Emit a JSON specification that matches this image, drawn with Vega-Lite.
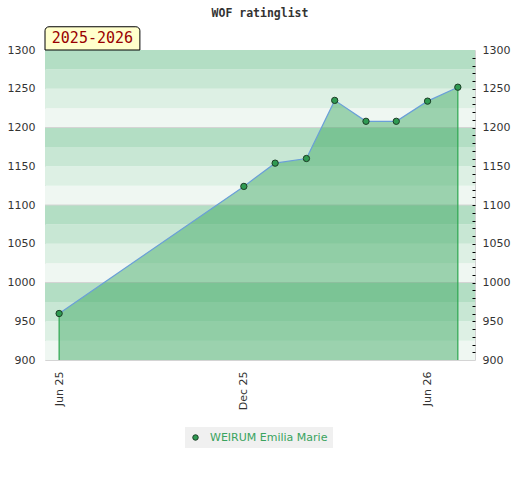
{
  "$schema": "https://vega.github.io/schema/vega-lite/v6.json",
  "width": 430,
  "height": 310,
  "autosize": {"type": "none"},
  "padding": {"left": 45, "top": 50, "right": 45, "bottom": 120},
  "background": "white",
  "title": {"text": "WOF ratinglist", "font": "DejaVu Sans Mono", "fontSize": 11.5, "fontWeight": "bold", "color": "#333333", "anchor": "middle", "offset": 7},
  "config": {
    "view": {"stroke": "#d4d4d4", "strokeWidth": 1},
    "axis": {"labelFont": "DejaVu Sans", "labelFontSize": 11, "labelColor": "#333333", "domain": false, "ticks": false, "grid": false, "title": null}
  },
  "datasets": {
    "bands": [
      {"lo": 900, "hi": 925, "shade": "d"}, {"lo": 925, "hi": 950, "shade": "c"}, {"lo": 950, "hi": 975, "shade": "b"}, {"lo": 975, "hi": 1000, "shade": "a"},
      {"lo": 1000, "hi": 1025, "shade": "d"}, {"lo": 1025, "hi": 1050, "shade": "c"}, {"lo": 1050, "hi": 1075, "shade": "b"}, {"lo": 1075, "hi": 1100, "shade": "a"},
      {"lo": 1100, "hi": 1125, "shade": "d"}, {"lo": 1125, "hi": 1150, "shade": "c"}, {"lo": 1150, "hi": 1175, "shade": "b"}, {"lo": 1175, "hi": 1200, "shade": "a"},
      {"lo": 1200, "hi": 1225, "shade": "d"}, {"lo": 1225, "hi": 1250, "shade": "c"}, {"lo": 1250, "hi": 1275, "shade": "b"}, {"lo": 1275, "hi": 1300, "shade": "a"}
    ],
    "ratings": [
      {"player": "WEIRUM Emilia Marie", "date": "2025-06-01", "rating": 960},
      {"player": "WEIRUM Emilia Marie", "date": "2025-12-01", "rating": 1124},
      {"player": "WEIRUM Emilia Marie", "date": "2026-01-01", "rating": 1154},
      {"player": "WEIRUM Emilia Marie", "date": "2026-02-01", "rating": 1160},
      {"player": "WEIRUM Emilia Marie", "date": "2026-03-01", "rating": 1235},
      {"player": "WEIRUM Emilia Marie", "date": "2026-04-01", "rating": 1208},
      {"player": "WEIRUM Emilia Marie", "date": "2026-05-01", "rating": 1208},
      {"player": "WEIRUM Emilia Marie", "date": "2026-06-01", "rating": 1234},
      {"player": "WEIRUM Emilia Marie", "date": "2026-07-01", "rating": 1252}
    ],
    "season": [
      {"label": "2025-2026", "start": "2025-05-18", "end": "2025-08-20", "mid": "2025-07-04"}
    ]
  },
  "layer": [
    {
      "data": {"name": "bands"},
      "mark": {"type": "rect"},
      "encoding": {
        "y": {"field": "lo", "type": "quantitative", "scale": {"domain": [900, 1300], "nice": false, "zero": false},
              "axis": {"orient": "left", "values": [900, 950, 1000, 1050, 1100, 1150, 1200, 1250, 1300], "format": "d", "labelPadding": 10}},
        "y2": {"field": "hi"},
        "color": {"field": "shade", "type": "nominal", "scale": {"domain": ["a", "b", "c", "d"], "range": ["#b3dec4", "#c8e7d4", "#ddf0e4", "#eff7f2"]}, "legend": null}
      }
    },
    {
      "data": {"name": "bands"},
      "transform": [{"filter": "datum.lo % 100 == 0 && datum.lo > 900"}],
      "mark": {"type": "rule", "color": "#d4d4d4", "strokeWidth": 1},
      "encoding": {
        "y": {"field": "lo", "type": "quantitative",
              "axis": {"orient": "right", "zindex": 1, "values": [900, 910, 920, 930, 940, 950, 960, 970, 980, 990, 1000, 1010, 1020, 1030, 1040, 1050, 1060, 1070, 1080, 1090, 1100, 1110, 1120, 1130, 1140, 1150, 1160, 1170, 1180, 1190, 1200, 1210, 1220, 1230, 1240, 1250, 1260, 1270, 1280, 1290, 1300],
                       "format": "d", "labelExpr": "datum.value % 50 == 0 ? datum.label : ''", "ticks": true, "tickSize": -3, "tickColor": "#000000", "tickWidth": 1,
                       "tickOpacity": {"condition": {"test": "datum.value == 900 || datum.value == 1300", "value": 0}, "value": 1},
                       "labelPadding": 10}}
      }
    },
    {
      "data": {"name": "ratings"},
      "mark": {"type": "area", "color": "#38a65d", "opacity": 0.46},
      "encoding": {
        "x": {"field": "date", "type": "temporal",
              "scale": {"domain": [{"year": 2025, "month": 5, "date": 18, "utc": true}, {"year": 2026, "month": 7, "date": 18, "utc": true}]},
              "axis": {"orient": "bottom", "values": [{"year": 2025, "month": 6, "date": 1, "utc": true}, {"year": 2025, "month": 12, "date": 1, "utc": true}, {"year": 2026, "month": 6, "date": 1, "utc": true}],
                       "labelExpr": "utcFormat(datum.value, '%b %y')", "labelAngle": -90, "labelPadding": 11}},
        "y": {"field": "rating", "type": "quantitative", "axis": null},
        "y2": {"datum": 900}
      }
    },
    {
      "data": {"name": "ratings"},
      "transform": [
        {"joinaggregate": [{"op": "min", "field": "date", "as": "d0"}, {"op": "max", "field": "date", "as": "d1"}]},
        {"filter": "time(datum.date) == time(datum.d0) || time(datum.date) == time(datum.d1)"}
      ],
      "mark": {"type": "rule", "color": "#2da650", "strokeWidth": 1.2},
      "encoding": {
        "x": {"field": "date", "type": "temporal"},
        "y": {"field": "rating", "type": "quantitative", "axis": null},
        "y2": {"datum": 900}
      }
    },
    {
      "data": {"name": "ratings"},
      "mark": {"type": "line", "color": "#6a9fd8", "strokeWidth": 1.2},
      "encoding": {
        "x": {"field": "date", "type": "temporal"},
        "y": {"field": "rating", "type": "quantitative", "axis": null}
      }
    },
    {
      "data": {"name": "ratings"},
      "mark": {"type": "point", "filled": true, "size": 40, "stroke": "#1c3d26", "strokeWidth": 1, "opacity": 1},
      "encoding": {
        "x": {"field": "date", "type": "temporal"},
        "y": {"field": "rating", "type": "quantitative", "axis": null},
        "color": {"field": "player", "type": "nominal", "scale": {"range": ["#2f9a52"]},
                  "legend": {"orient": "none", "legendX": 140, "legendY": 377, "title": null, "fillColor": "#f0f0f0", "padding": 5,
                             "labelColor": "#3aa35e", "labelFont": "DejaVu Sans", "labelFontSize": 11, "labelOffset": 9,
                             "symbolSize": 30, "symbolStrokeColor": "#1c3d26", "symbolStrokeWidth": 1, "symbolType": "circle"}}
      }
    },
    {
      "data": {"name": "season"},
      "mark": {"type": "rect", "fill": "#ffffcc", "stroke": "#000000", "strokeWidth": 1, "cornerRadiusTopLeft": 4, "cornerRadiusTopRight": 4},
      "encoding": {
        "x": {"field": "start", "type": "temporal"},
        "x2": {"field": "end"},
        "y": {"datum": 1300, "type": "quantitative", "axis": null},
        "y2": {"datum": 1330}
      }
    },
    {
      "data": {"name": "season"},
      "mark": {"type": "text", "font": "DejaVu Sans Mono", "fontSize": 15, "color": "#990000", "align": "center", "baseline": "middle"},
      "encoding": {
        "x": {"field": "mid", "type": "temporal"},
        "y": {"datum": 1315, "type": "quantitative", "axis": null},
        "text": {"field": "label"}
      }
    }
  ],
  "resolve": {"axis": {"y": "independent"}, "scale": {"color": "independent"}}
}
